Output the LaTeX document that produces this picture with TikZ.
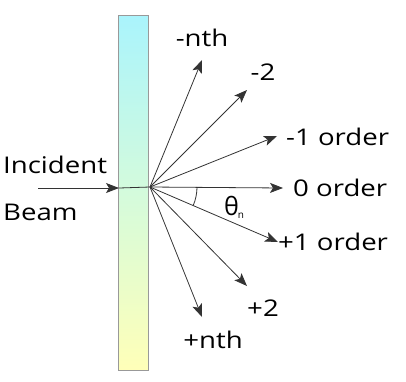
\documentclass[tikz,border=0pt]{standalone}
\usepackage{fontspec}
\usepackage{graphicx}
\setmainfont{Open Sans}
\usetikzlibrary{arrows.meta,calc}
\definecolor{gtop}{HTML}{AAF4FC}
\definecolor{gmid}{HTML}{D4FBDC}
\definecolor{gbot}{HTML}{FFFFB8}
\definecolor{ray}{HTML}{333333}
\newcommand{\wtxt}[1]{\scalebox{1.2}[1]{#1}}
\begin{document}
\begin{tikzpicture}[x=1pt,y=1pt,yscale=-1,
  lbl/.style={font=\fontsize{23}{26}\selectfont, inner sep=0pt},
  beam/.style={draw=ray, line width=0.8pt, -{Stealth[length=13pt,width=10pt,inset=3pt]}}]
\useasboundingbox (0,0) rectangle (406,381);
% grating
\shade[top color=gtop, bottom color=gbot, middle color=gmid, shading angle=0]
  (118.5,15.5) rectangle (148.5,370.5);
\draw[gray!80, line width=0.8pt] (118.5,15.5) rectangle (148.5,370.5);
% points
\coordinate (C) at (150,187);
\coordinate (in) at (38,188);
\coordinate (g) at (119,188);
\coordinate (tmn) at (202,60);
\coordinate (tm2) at (247,90);
\coordinate (tm1) at (277,136);
\coordinate (t0) at (283,188);
\coordinate (tp1) at (278,242);
\coordinate (tp2) at (247,286);
\coordinate (tpn) at (202,317);
% incident
\draw[beam] (in) -- (g);
\draw[draw=ray, line width=0.8pt] (g) -- (C);
% rays
\foreach \t in {tmn,tm2,tm1,t0,tp1,tp2,tpn} \draw[beam] (C) -- (\t);
% angle arc
\draw[draw=ray, line width=0.8pt] ($(C)+(47,0)$) arc[start angle=0, end angle=23.3, radius=47];
% labels
\node[lbl] (lmn) at (202,38) {\wtxt{-nth}};
\node[lbl] (lm2) at (263,72) {\wtxt{-2}};
\node[lbl, anchor=west] (lm1) at (286,137) {\wtxt{-1 order}};
\node[lbl, anchor=west] (l0) at (293,188) {\wtxt{0 order}};
\node[lbl, anchor=west] (lp1) at (278,242) {\wtxt{+1 order}};
\node[lbl] (lp2) at (263,308) {\wtxt{+2}};
\node[lbl] (lpn) at (213,340) {\wtxt{+nth}};
\node[lbl, anchor=west] (inc) at (3,165) {\wtxt{Incident}};
\node[lbl, anchor=west] (bm) at (3,212) {\wtxt{Beam}};
\node[inner sep=0pt, font=\fontsize{25}{28}\selectfont] (th) at (234,207) {θ\kern-1pt\raisebox{-3pt}{\fontsize{10}{11}\selectfont n}};
\end{tikzpicture}
\end{document}
